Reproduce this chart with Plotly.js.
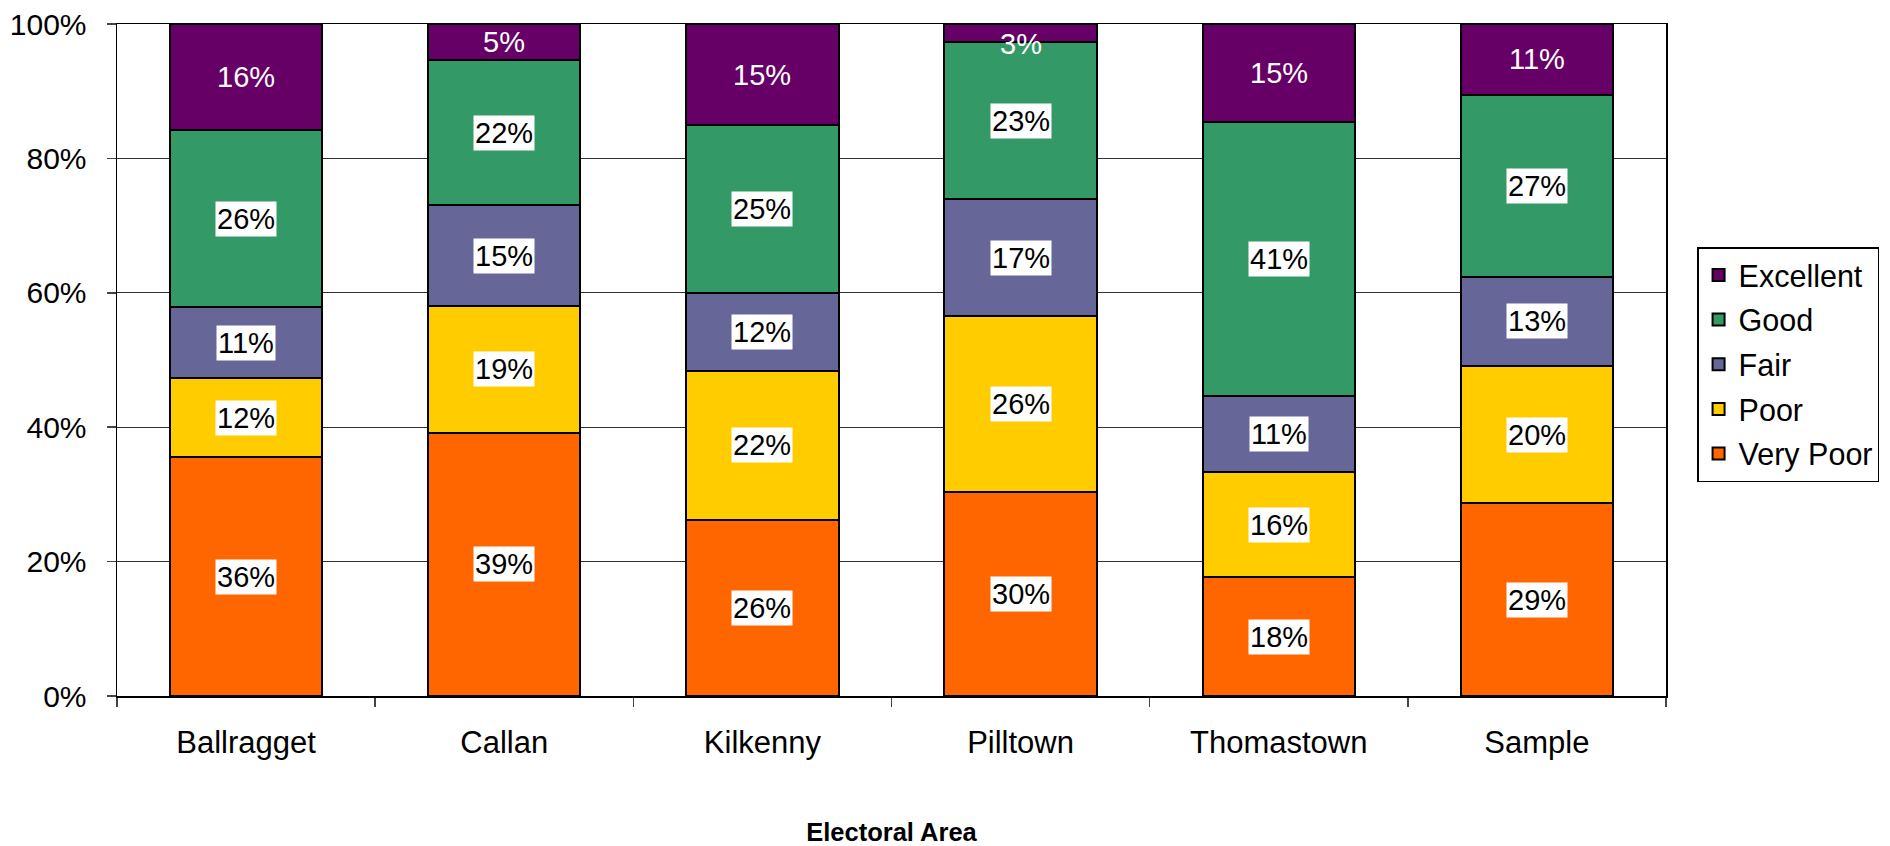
<!DOCTYPE html>
<html>
<head>
<meta charset="utf-8">
<script src="https://cdn.plot.ly/plotly-3.0.1.min.js"></script>
<style>html,body{margin:0;padding:0;background:#fff;}#chart{width:1890px;height:846px;}</style>
</head>
<body>
<div id="chart"></div>
<script>
const categories = ["Ballragget", "Callan", "Kilkenny", "Pilltown", "Thomastown", "Sample"];
const veryPoor  = [35.5, 39.2, 26.2, 30.3, 17.7, 28.7];
const poor      = [11.8, 18.9, 22.2, 26.2, 15.6, 20.4];
const fair      = [10.6, 14.9, 11.6, 17.4, 11.4, 13.3];
const good      = [26.3, 21.6, 24.9, 23.4, 40.7, 27.1];
const excellent = [15.8,  5.4, 15.1,  2.7, 14.6, 10.5];
const seriesNames = ["Very Poor", "Poor", "Fair", "Good", "Excellent"];
const seriesColors = ["#FF6600", "#FFCC00", "#666699", "#339966", "#660066"];
const yTicks = [0, 20, 40, 60, 80, 100];
const yTickLabels = ["0%", "20%", "40%", "60%", "80%", "100%"];

const seriesValues = [veryPoor, poor, fair, good, excellent];
const FONT = "Liberation Sans, Arial, sans-serif";

const traces = seriesValues.map((vals, i) => ({
  type: "bar",
  name: seriesNames[i],
  x: categories,
  y: vals,
  legendgroup: "g" + i,
  legendrank: 100 - i,
  marker: {color: seriesColors[i], line: {color: "#000", width: 2}},
  hoverinfo: "skip"
}));

const annotations = [];
categories.forEach((c, ci) => {
  let base = 0;
  seriesValues.forEach((vals, si) => {
    const v = vals[ci];
    const isTop = si === seriesValues.length - 1;
    const mid = base + v / 2;
    const small = v < 5;
    annotations.push({
      x: c, y: mid, xref: "x", yref: "y",
      yanchor: "middle",
      yshift: small ? -11 : 0,
      text: Math.round(v) + "%",
      showarrow: false,
      font: {family: FONT, size: 29, color: isTop ? "#fff" : "#000"},
      bgcolor: isTop ? "rgba(0,0,0,0)" : "#fff",
      borderpad: 1
    });
    base += v;
  });
});

const layout = {
  width: 1890, height: 846,
  paper_bgcolor: "#fff", plot_bgcolor: "#fff",
  margin: {l: 117, r: 223, t: 24, b: 150},
  barmode: "stack",
  bargap: 0.41,
  font: {family: FONT, size: 29, color: "#000"},
  showlegend: true,
  legend: {
    x: 1.0194, y: 0.668, xanchor: "left", yanchor: "top",
    traceorder: "grouped",
    tracegroupgap: 2,
    bordercolor: "#000", borderwidth: 1.5,
    font: {family: FONT, size: 30.5, color: "#000"}
  },
  xaxis: {
    type: "category",
    showline: true, linecolor: "#000", linewidth: 1.5, mirror: true,
    ticks: "outside", tickson: "boundaries", ticklen: 9, tickcolor: "#444", tickwidth: 1.5,
    tickfont: {family: FONT, size: 31, color: "#000"},
    ticklabelstandoff: 18,
    showgrid: false,
    title: {text: "<b>Electoral Area</b>", font: {family: FONT, size: 25.5, color: "#000"}, standoff: 68},
    automargin: false,
    fixedrange: true
  },
  yaxis: {
    range: [0, 100],
    tickvals: yTicks, ticktext: yTickLabels,
    showline: true, linecolor: "#000", linewidth: 1.5, mirror: true,
    ticks: "outside", ticklen: 9, tickcolor: "#444", tickwidth: 1.5,
    showgrid: true, gridcolor: "#333", gridwidth: 1.2,
    zeroline: false,
    tickfont: {family: FONT, size: 30, color: "#000"},
    ticklabelstandoff: 14,
    automargin: false,
    fixedrange: true
  },
  annotations: annotations
};

Plotly.newPlot("chart", traces, layout, {displayModeBar: false, staticPlot: true});
</script>
</body>
</html>
